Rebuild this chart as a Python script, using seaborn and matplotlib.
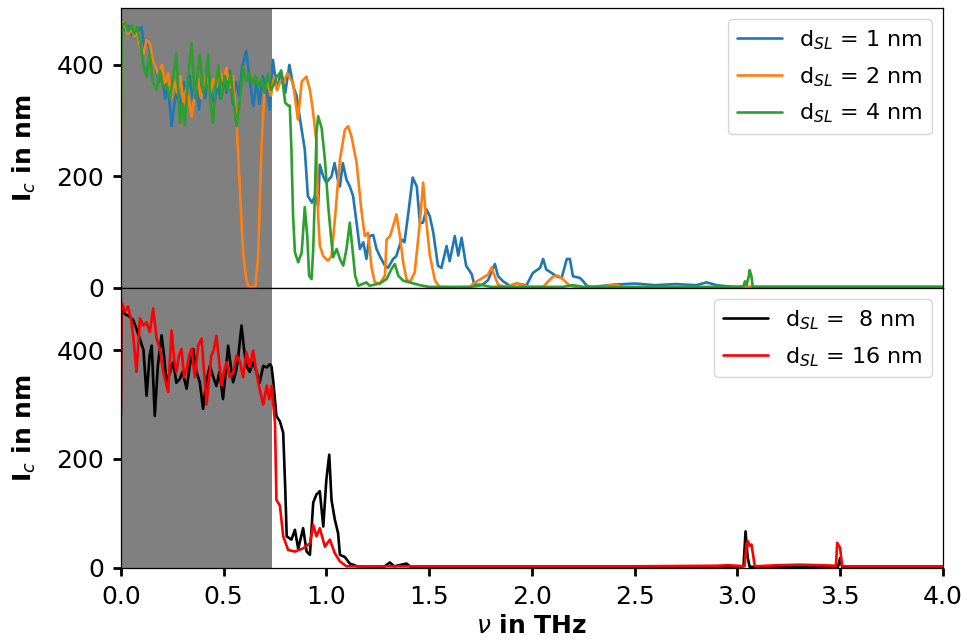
import numpy as np
import pandas as pd
import matplotlib
matplotlib.use("Agg")
import matplotlib.pyplot as plt
import seaborn as sns

sns.set_style("ticks", rc={"axes.edgecolor": "black", "text.color": "black",
                           "axes.labelcolor": "black", "xtick.color": "black",
                           "ytick.color": "black"})
plt.rcParams['font.family'] = ['DejaVu Sans']

# ---------------- data ----------------
freq_d1 = [0.0, 0.005, 0.02, 0.035, 0.05, 0.065, 0.08, 0.1, 0.115, 0.13, 0.145, 0.157, 0.17, 0.185, 0.2,
           0.215, 0.23, 0.247, 0.26, 0.275, 0.29, 0.305, 0.32, 0.335, 0.35, 0.365, 0.38, 0.395, 0.41, 0.425,
           0.44, 0.455, 0.47, 0.485, 0.5, 0.515, 0.53, 0.545, 0.56, 0.575, 0.59, 0.61, 0.625, 0.644, 0.66,
           0.675, 0.69, 0.705, 0.725, 0.74, 0.76, 0.78, 0.8, 0.82, 0.84, 0.855, 0.87, 0.895, 0.91, 0.93,
           0.945, 0.96, 0.968, 0.985, 1.0, 1.025, 1.04, 1.055, 1.066, 1.08, 1.098, 1.114, 1.13, 1.147, 1.163,
           1.18, 1.195, 1.21, 1.228, 1.244, 1.26, 1.285, 1.3, 1.325, 1.34, 1.366, 1.38, 1.397, 1.42, 1.44,
           1.455, 1.47, 1.487, 1.503, 1.52, 1.543, 1.56, 1.585, 1.6, 1.625, 1.642, 1.658, 1.68, 1.707, 1.72,
           1.76, 1.787, 1.82, 1.836, 1.86, 1.893, 1.925, 1.974, 2.005, 2.04, 2.055, 2.07, 2.096, 2.12, 2.145,
           2.17, 2.185, 2.2, 2.234, 2.25, 2.27, 2.3, 2.4, 2.5, 2.6, 2.7, 2.8, 2.85, 2.9, 2.95, 3.0, 3.5, 4.0]
lc_d1 = [280, 468, 462, 470, 455, 448, 460, 468, 430, 445, 420, 409, 395, 370, 390,
         340, 360, 290, 330, 355, 320, 370, 345, 380, 337, 360, 320, 375, 340, 390,
         350, 330, 370, 340, 380, 350, 390, 330, 370, 345, 395, 425, 380, 326, 370,
         330, 380, 360, 320, 409, 355, 390, 350, 400, 360, 345, 307, 248, 165, 153,
         165, 147, 221, 200, 189, 200, 224, 195, 182, 224, 194, 182, 165, 117, 70,
         82, 52, 93, 95, 70, 57, 40, 36, 52, 57, 87, 82, 129, 198, 182,
         117, 117, 141, 129, 100, 40, 36, 75, 48, 93, 58, 90, 40, 25, 6,
         6, 14, 43, 21, 12, 4, 8, 5, 27, 36, 52, 33, 27, 21, 18,
         52, 52, 21, 18, 12, 3, 2, 6, 8, 5, 7, 5, 10, 5, 3, 2, 2, 2]

freq_d2 = [0.0, 0.005, 0.02, 0.035, 0.05, 0.065, 0.08, 0.095, 0.11, 0.125, 0.141, 0.155, 0.17, 0.185, 0.2,
           0.215, 0.23, 0.245, 0.26, 0.275, 0.29, 0.305, 0.32, 0.344, 0.36, 0.375, 0.39, 0.405, 0.42, 0.435,
           0.45, 0.465, 0.48, 0.5, 0.514, 0.53, 0.545, 0.563, 0.58, 0.595, 0.61, 0.62, 0.64, 0.655, 0.668,
           0.685, 0.7, 0.715, 0.73, 0.745, 0.76, 0.775, 0.79, 0.81, 0.838, 0.855, 0.862, 0.88, 0.903, 0.92,
           0.935, 0.952, 0.96, 0.968, 0.985, 1.008, 1.025, 1.04, 1.066, 1.09, 1.106, 1.122, 1.147, 1.17, 1.187,
           1.203, 1.22, 1.236, 1.26, 1.285, 1.293, 1.31, 1.325, 1.341, 1.358, 1.374, 1.39, 1.406, 1.43, 1.455,
           1.471, 1.487, 1.503, 1.528, 1.55, 1.6, 1.7, 1.715, 1.747, 1.787, 1.804, 1.82, 1.837, 1.877, 1.925,
           1.958, 1.99, 2.055, 2.08, 2.104, 2.128, 2.153, 2.185, 2.22, 2.35, 2.38, 2.42, 2.45, 3.0, 4.0]
lc_d2 = [260, 477, 470, 455, 465, 450, 460, 430, 420, 445, 438, 410, 395, 380, 400,
         365, 385, 340, 370, 350, 380, 330, 360, 308, 350, 375, 340, 370, 385, 350,
         375, 360, 390, 370, 395, 360, 380, 296, 170, 64, 15, 3, 1, 3, 56,
         260, 361, 370, 345, 378, 355, 370, 367, 385, 367, 320, 302, 370, 379, 355,
         317, 260, 129, 76, 57, 49, 57, 117, 230, 284, 290, 272, 225, 141, 93,
         99, 36, 10, 8, 22, 87, 93, 111, 132, 93, 45, 16, 10, 28, 117,
         189, 117, 60, 14, 2, 1, 2, 8, 15, 24, 37, 20, 5, 2, 8,
         5, 2, 2, 12, 21, 22, 15, 4, 1, 2, 5, 5, 1, 1, 1]

freq_d4 = [0.0, 0.005, 0.02, 0.035, 0.05, 0.065, 0.08, 0.095, 0.11, 0.125, 0.14, 0.155, 0.173, 0.19, 0.205,
           0.222, 0.24, 0.255, 0.27, 0.287, 0.3, 0.311, 0.325, 0.344, 0.36, 0.372, 0.384, 0.4, 0.412, 0.424,
           0.436, 0.448, 0.46, 0.475, 0.49, 0.505, 0.52, 0.535, 0.55, 0.563, 0.58, 0.594, 0.61, 0.625, 0.64,
           0.655, 0.67, 0.685, 0.7, 0.715, 0.73, 0.745, 0.76, 0.78, 0.8, 0.814, 0.822, 0.83, 0.838, 0.847,
           0.863, 0.88, 0.895, 0.907, 0.916, 0.928, 0.936, 0.944, 0.952, 0.96, 0.977, 0.993, 1.009, 1.025, 1.033,
           1.05, 1.066, 1.082, 1.098, 1.114, 1.127, 1.14, 1.155, 1.195, 1.21, 1.26, 1.293, 1.317, 1.333, 1.35,
           1.374, 1.406, 1.455, 1.5, 1.7, 1.76, 1.8, 2.15, 2.2, 2.25, 3.0, 3.03, 3.037, 3.045, 3.055,
           3.06, 3.068, 3.075, 4.0]
lc_d4 = [290, 470, 475, 460, 470, 455, 468, 440, 400, 379, 420, 370, 355, 390, 360,
         365, 340, 380, 421, 296, 330, 292, 370, 439, 340, 380, 418, 350, 360, 420,
         330, 296, 360, 400, 340, 380, 355, 385, 330, 290, 340, 397, 370, 385, 365,
         380, 360, 375, 350, 385, 355, 365, 380, 388, 332, 327, 327, 248, 129, 64,
         46, 64, 145, 93, 22, 16, 70, 165, 278, 308, 287, 230, 147, 82, 55,
         70, 52, 40, 70, 117, 70, 22, 4, 10, 4, 8, 16, 34, 43, 22,
         13, 10, 5, 2, 2, 5, 2, 2, 5, 2, 2, 3, 12, 5, 20,
         32, 22, 2, 2]

freq_d8 = [0.0, 0.003, 0.02, 0.04, 0.06, 0.075, 0.092, 0.11, 0.125, 0.14, 0.15, 0.165, 0.18, 0.198, 0.21,
           0.222, 0.24, 0.255, 0.27, 0.287, 0.3, 0.32, 0.335, 0.352, 0.368, 0.384, 0.4, 0.415, 0.433, 0.45,
           0.465, 0.48, 0.497, 0.51, 0.522, 0.535, 0.546, 0.56, 0.57, 0.587, 0.6, 0.611, 0.627, 0.644, 0.66,
           0.675, 0.693, 0.71, 0.725, 0.733, 0.741, 0.757, 0.774, 0.79, 0.8, 0.807, 0.83, 0.847, 0.863, 0.887,
           0.904, 0.92, 0.936, 0.952, 0.968, 0.985, 1.0, 1.014, 1.025, 1.041, 1.057, 1.066, 1.09, 1.114, 1.15,
           1.28, 1.309, 1.33, 1.39, 1.41, 2.0, 2.9, 3.0, 3.03, 3.04, 3.05, 3.06, 3.49, 3.5, 3.51, 4.0]
lc_d8 = [280, 476, 466, 462, 455, 440, 421, 400, 316, 390, 408, 279, 371, 427, 390,
         341, 360, 378, 340, 347, 360, 329, 370, 402, 360, 341, 292, 340, 371, 350,
         334, 360, 310, 360, 408, 370, 341, 360, 384, 445, 400, 371, 360, 378, 360,
         340, 371, 368, 374, 370, 345, 279, 269, 248, 144, 58, 52, 70, 35, 73,
         30, 24, 120, 135, 141, 76, 162, 208, 125, 89, 64, 24, 20, 8, 3,
         2, 10, 3, 8, 2, 1, 2, 2, 3, 67, 20, 2, 2, 18, 2, 1]

freq_d16 = [0.0, 0.003, 0.02, 0.035, 0.05, 0.06, 0.076, 0.093, 0.11, 0.125, 0.141, 0.157, 0.174, 0.19, 0.206,
            0.23, 0.247, 0.26, 0.27, 0.283, 0.295, 0.308, 0.32, 0.332, 0.344, 0.36, 0.376, 0.393, 0.405, 0.417,
            0.43, 0.44, 0.452, 0.465, 0.478, 0.49, 0.502, 0.514, 0.53, 0.547, 0.563, 0.58, 0.595, 0.611, 0.627,
            0.644, 0.655, 0.668, 0.68, 0.693, 0.71, 0.722, 0.733, 0.75, 0.757, 0.774, 0.79, 0.814, 0.847, 0.887,
            0.92, 0.936, 0.952, 0.968, 0.993, 1.017, 1.041, 1.066, 1.098, 1.5, 2.0, 2.5, 2.9, 2.95, 3.0,
            3.035, 3.045, 3.052, 3.06, 3.069, 3.085, 3.2, 3.3, 3.4, 3.48, 3.486, 3.5, 3.51, 3.6, 4.0]
lc_d16 = [290, 488, 471, 480, 455, 427, 360, 458, 445, 451, 433, 476, 421, 402, 360,
          323, 436, 380, 360, 390, 402, 350, 365, 390, 402, 350, 408, 421, 360, 300,
          350, 390, 400, 426, 380, 335, 360, 378, 350, 360, 390, 378, 350, 396, 370,
          399, 370, 341, 320, 300, 335, 310, 334, 267, 125, 114, 58, 33, 30, 36,
          45, 79, 58, 73, 39, 52, 27, 12, 3, 3, 3, 3, 4, 5, 4,
          3, 45, 49, 40, 43, 3, 5, 6, 5, 4, 46, 37, 3, 3, 3]

labels_top = [r"d$_{SL}$ = 1 nm", r"d$_{SL}$ = 2 nm", r"d$_{SL}$ = 4 nm"]
labels_bot = [r"d$_{SL}$ =  8 nm", r"d$_{SL}$ = 16 nm"]
colors_top = ["#1f77b4", "#ff7f0e", "#2ca02c"]
colors_bot = ["black", "red"]
shade_end = 0.735

df_top = pd.concat([
    pd.DataFrame({"nu": freq_d1, "lc": lc_d1, "series": labels_top[0]}),
    pd.DataFrame({"nu": freq_d2, "lc": lc_d2, "series": labels_top[1]}),
    pd.DataFrame({"nu": freq_d4, "lc": lc_d4, "series": labels_top[2]}),
], ignore_index=True)
df_bot = pd.concat([
    pd.DataFrame({"nu": freq_d8, "lc": lc_d8, "series": labels_bot[0]}),
    pd.DataFrame({"nu": freq_d16, "lc": lc_d16, "series": labels_bot[1]}),
], ignore_index=True)

# ---------------- figure ----------------
fig, (ax1, ax2) = plt.subplots(2, 1, sharex=True, figsize=(9.67, 6.41), dpi=100)
fig.subplots_adjust(left=0.125, right=0.975, bottom=0.114, top=0.9875, hspace=0)

for ax in (ax1, ax2):
    ax.axvspan(0, shade_end, color="gray", zorder=0, lw=0)

sns.lineplot(data=df_top, x="nu", y="lc", hue="series", hue_order=labels_top,
             palette=colors_top, estimator=None, sort=True, lw=1.9, ax=ax1)
sns.lineplot(data=df_bot, x="nu", y="lc", hue="series", hue_order=labels_bot,
             palette=colors_bot, estimator=None, sort=True, lw=1.9, ax=ax2)

ax1.set_xlim(0, 4.0)
ax1.set_ylim(0, 502)
ax2.set_ylim(0, 514)
for ax in (ax1, ax2):
    ax.set_yticks([0, 200, 400])
    ax.tick_params(axis="both", labelsize=18, length=6, width=2, pad=6, direction="out")
    ax.set_ylabel(r"I$_c$ in nm", fontsize=18, fontweight="bold", labelpad=13)
    for sp in ax.spines.values():
        sp.set_visible(True)
        sp.set_linewidth(0.9)
ax1.tick_params(axis="x", bottom=False, labelbottom=False)
ax2.set_xticks([0.0, 0.5, 1.0, 1.5, 2.0, 2.5, 3.0, 3.5, 4.0])
ax2.set_xticklabels(["0.0", "0.5", "1.0", "1.5", "2.0", "2.5", "3.0", "3.5", "4.0"])
ax2.set_xlabel(r"$\nu$ in THz", fontsize=18, fontweight="bold", labelpad=4)

for ax in (ax1, ax2):
    ax.legend(loc="upper right", fontsize=16, handlelength=2.0, borderpad=0.4,
              labelspacing=0.6, handletextpad=0.8)

fig.savefig("out.png", dpi=100)
